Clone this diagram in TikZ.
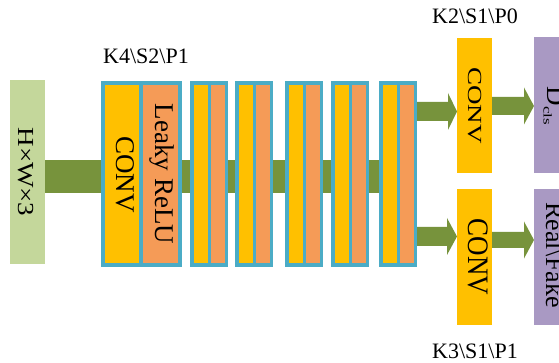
\documentclass[tikz,border=0pt]{standalone}
\usepackage{fontspec}
\setmainfont{Liberation Serif}
\usetikzlibrary{calc,backgrounds}
\definecolor{inputgreen}{HTML}{C4D79B}
\definecolor{bargreen}{HTML}{77933C}
\definecolor{yel}{HTML}{FFC000}
\definecolor{ora}{HTML}{F59B57}
\definecolor{cyanb}{HTML}{4BACC6}
\definecolor{purp}{HTML}{A999C3}
\tikzset{
  box/.style={rectangle, inner sep=0pt, outer sep=0pt, anchor=north west, draw=none},
  vtext/.style={rotate=-90, anchor=base, inner sep=0pt, font=\fontsize{27}{30}\selectfont},
  lbl/.style={anchor=base, inner sep=0pt, font=\fontsize{22}{26}\selectfont},
}
% #1 start point, #2 end point (x only), #3 shaft half height, #4 head half height, #5 head length
\newcommand\fatarrow[5]{%
  \fill[bargreen] let \p1=#1, \p2=#2 in
    (\x1,\y1+#3) -- (\x2-#5,\y1+#3) -- (\x2-#5,\y1+#4) -- (\x2,\y1)
    -- (\x2-#5,\y1-#4) -- (\x2-#5,\y1-#3) -- (\x1,\y1-#3) -- cycle;}
\begin{document}
\begin{tikzpicture}[x=1pt,y=-1pt]
\useasboundingbox (0,0) rectangle (559,363);

% input
\node[box, fill=inputgreen, minimum width=35pt, minimum height=184pt] (in) at (10,80) {};
\node[vtext] (intxt) at (18,172) {\scalebox{1}[0.85]{H×W×3}};

% block 1
\node[box, fill=cyanb, minimum width=81pt, minimum height=186pt] (b1) at (101,81) {};
\node[box, fill=yel, minimum width=34pt, minimum height=178pt] (b1y) at (105,85) {};
\node[box, fill=ora, minimum width=35pt, minimum height=178pt] (b1o) at (143,85) {};
\node[vtext] (b1yt) at (116.7,174.5) {CONV};
\node[vtext] (b1ot) at (155.5,174) {Leaky ReLU};

% blocks 2-6
\foreach \i/\x in {2/190,3/235,4/285,5/331,6/379}{
  \node[box, fill=cyanb, minimum width=38pt, minimum height=186pt] (b\i) at (\x,81) {};
  \node[box, fill=yel, minimum width=14pt, minimum height=178pt] (b\i y) at (\x+3.5,85) {};
  \node[box, fill=ora, minimum width=14pt, minimum height=178pt] (b\i o) at (\x+20.5,85) {};
}

% main bar behind blocks
\coordinate (m1) at (0,160);
\coordinate (m2) at (0,193);
\begin{scope}[on background layer]
  \fill[white] (0,0) rectangle (559,363);
  \fill[bargreen] (in.east |- m1) rectangle (b6.west |- m2);
\end{scope}

% branch convs
\node[box, fill=yel, minimum width=35pt, minimum height=135pt] (c1) at (457,38) {};
\node[box, fill=yel, minimum width=35pt, minimum height=136pt] (c2) at (457,189) {};
\node[vtext] (c1t) at (468.3,105.5) {\scalebox{1}[0.74]{CONV}};
\node[vtext] (c2t) at (468.3,257) {\scalebox{1}[1.1]{CONV}};

% outputs
\node[box, fill=purp, minimum width=25pt, minimum height=136pt] (d1) at (534,37) {};
\node[box, fill=purp, minimum width=25pt, minimum height=136pt] (d2) at (534,189) {};
\node[vtext] (d1t) at (547,106) {D\raisebox{-3.3pt}{\fontsize{17}{17}\selectfont\scalebox{1}[0.7]{cls}}};
\node[vtext, font=\fontsize{26}{30}\selectfont] (d2t) at (546,255) {Real\textbackslash Fake};

% arrows
\coordinate (u1) at (0,111.5);
\coordinate (u2) at (0,106);
\coordinate (l1) at (0,236.5);
\coordinate (l2) at (0,240);
\fatarrow{(b6.east |- u1)}{(c1.west |- u1)}{9.5pt}{18.5pt}{9pt}
\fatarrow{(c1.east |- u2)}{(d1.west |- u2)}{9pt}{18.5pt}{10pt}
\fatarrow{(b6.east |- l1)}{(c2.west |- l1)}{9.5pt}{18.5pt}{10pt}
\fatarrow{(c2.east |- l2)}{(d2.west |- l2)}{8pt}{18.5pt}{10pt}

% labels
\node[lbl] (k4) at (146,64) {K4\textbackslash S2\textbackslash P1};
\node[lbl] (k2) at (475,24) {K2\textbackslash S1\textbackslash P0};
\node[lbl] (k3) at (475,358) {K3\textbackslash S1\textbackslash P1};
\end{tikzpicture}
\end{document}
